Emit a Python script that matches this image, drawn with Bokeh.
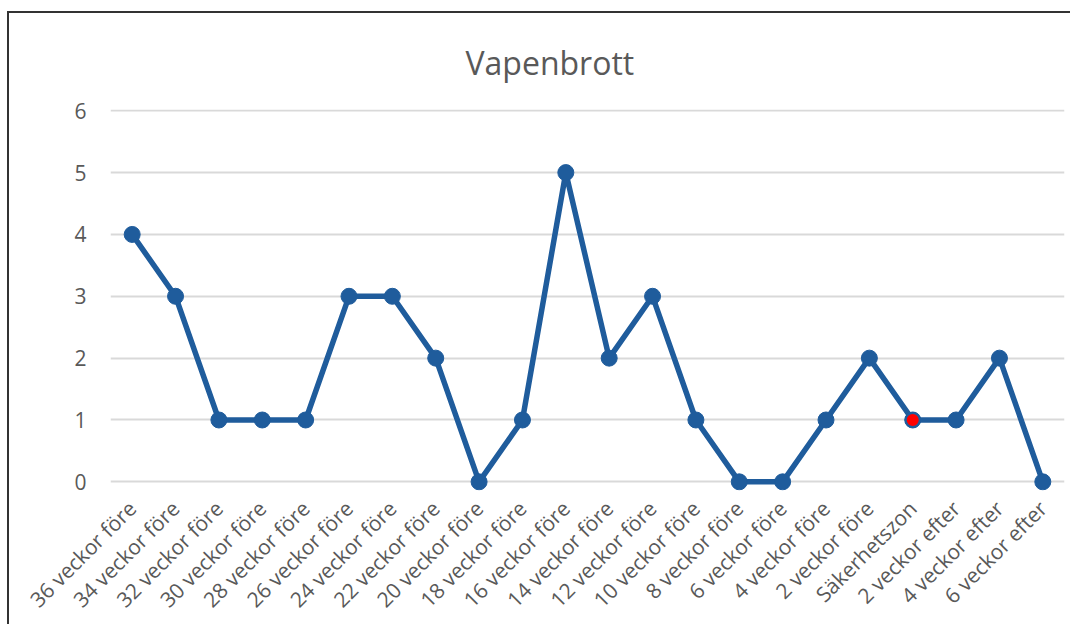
import math
from bokeh.plotting import figure
from bokeh.models import ColumnDataSource, FixedTicker, Range1d
from bokeh.embed import file_html
from bokeh.resources import INLINE

categories = ["36 veckor före", "34 veckor före", "32 veckor före", "30 veckor före",
              "28 veckor före", "26 veckor före", "24 veckor före", "22 veckor före",
              "20 veckor före", "18 veckor före", "16 veckor före", "14 veckor före",
              "12 veckor före", "10 veckor före", "8 veckor före", "6 veckor före",
              "4 veckor före", "2 veckor före", "Säkerhetszon", "2 veckor efter",
              "4 veckor efter", "6 veckor efter"]
values = [4, 3, 1, 1, 1, 3, 3, 2, 0, 1, 5, 2, 3, 1, 0, 0, 1, 2, 1, 1, 2, 0]
highlight = "Säkerhetszon"
y_ticks = [0, 1, 2, 3, 4, 5, 6]

BLUE = "#1F5C9C"
GREY = "#595959"

p = figure(x_range=categories, y_range=Range1d(-0.14, 6.02),
           width=1063, height=613, output_backend="svg", toolbar_location=None,
           title="Vapenbrott", min_border_left=101, min_border_right=8,
           min_border_top=96, min_border_bottom=132)
p.margin = (11, 0, 0, 7)
p.styles = {"border-left": "2px solid #333333", "border-top": "2px solid #333333"}

p.title.align = "left"
p.title.text_font = "Open Sans"
p.title.text_font_size = "32px"
p.title.text_font_style = "normal"
p.title.text_color = GREY
p.title.standoff = 51
p.title.offset = 355

p.outline_line_color = None
p.background_fill_color = "white"
p.border_fill_color = "white"

p.xgrid.visible = False
p.ygrid.grid_line_color = "#D9D9D9"
p.ygrid.grid_line_width = 2
p.yaxis.ticker = FixedTicker(ticks=y_ticks)

for ax in (p.xaxis, p.yaxis):
    ax.axis_line_color = None
    ax.major_tick_line_color = None
    ax.minor_tick_line_color = None
    ax.major_label_text_font = "Open Sans"
    ax.major_label_text_font_size = "21px"
    ax.major_label_text_color = GREY

p.yaxis.major_label_standoff = 18
p.xaxis.major_label_standoff = 8
p.xaxis.major_label_orientation = math.pi / 4

src = ColumnDataSource(dict(x=categories, y=values))
p.line("x", "y", source=src, line_color=BLUE, line_width=5.5)
p.scatter("x", "y", source=src, size=16, fill_color=BLUE, line_color=BLUE)

hi = [i for i, c in enumerate(categories) if c == highlight]
hsrc = ColumnDataSource(dict(x=[categories[i] for i in hi], y=[values[i] for i in hi]))
p.scatter("x", "y", source=hsrc, size=14, fill_color="red", line_color=BLUE, line_width=2)

open("out.html", "w").write(file_html(p, INLINE))
